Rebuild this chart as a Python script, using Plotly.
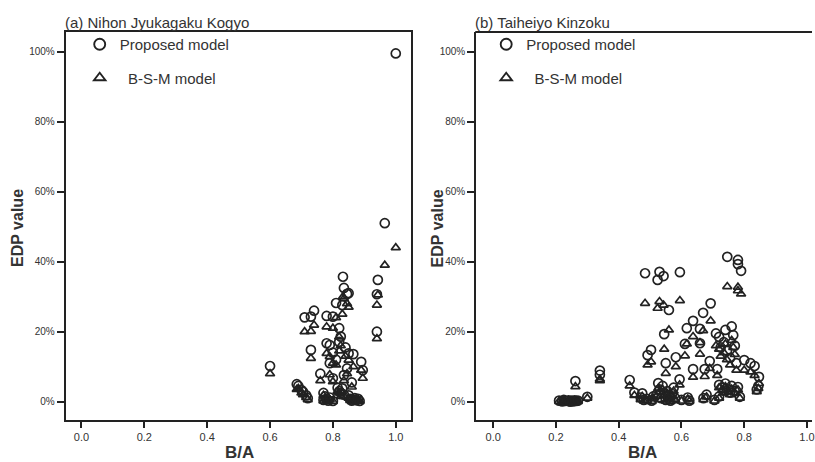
import plotly.graph_objects as go

# ---------------- data (B/A ratio, EDP value in %) ----------------
# (a) Nihon Jyukagaku Kogyo
a_ba = [0.60, 0.685, 0.69, 0.70, 0.705, 0.715, 0.72, 0.71, 0.73, 0.74, 0.73,
        0.78, 0.80, 0.81, 0.83, 0.832, 0.835, 0.85, 0.845, 0.78, 0.79, 0.82,
        0.825, 0.85, 0.865, 0.89, 0.895, 0.79, 0.80, 0.835, 0.845, 0.80, 0.81,
        0.77, 0.775, 0.78, 0.785, 0.77, 0.79, 0.80, 0.815, 0.82, 0.825, 0.83,
        0.835, 0.85, 0.855, 0.86, 0.865, 0.87, 0.875, 0.88, 0.885, 0.943,
        0.94, 0.94, 0.965, 1.0, 0.76, 0.82, 0.84, 0.86]
a_proposed = [10.2, 5.0, 4.5, 3.3, 2.8, 1.8, 1.0, 24.1, 24.3, 26.0, 14.8,
              24.5, 24.3, 28.2, 27.6, 35.7, 32.5, 31.0, 30.8, 16.7, 16.2, 17.1,
              18.6, 13.8, 13.6, 11.4, 9.0, 11.0, 6.7, 7.6, 9.5, 14.0, 12.0,
              2.5, 1.5, 0.8, 0.3, 0.5, 1.2, 0.2, 4.0, 3.0, 2.5, 3.8,
              2.0, 1.8, 0.8, 0.3, 0.6, 1.0, 0.4, 0.8, 0.2, 34.8,
              30.7, 20.0, 51.0, 99.5, 8.0, 21.0, 15.5, 5.5]
a_bsm = [8.0, 3.5, 3.8, 2.5, 2.0, 1.2, 0.6, 20.0, 20.1, 21.9, 12.4,
         21.4, 21.0, 24.0, 25.0, 30.0, 29.5, 27.0, 28.0, 13.8, 12.9, 14.5,
         16.0, 11.9, 10.0, 9.0, 6.7, 7.7, 5.7, 6.0, 8.0, 11.0, 10.5,
         1.8, 0.8, 0.3, 0.1, 0.2, 0.6, 0.1, 3.0, 2.5, 1.5, 2.8,
         1.5, 1.0, 0.4, 0.1, 0.3, 0.5, 0.2, 0.4, 0.1, 30.5,
         27.6, 18.0, 39.0, 44.0, 6.0, 18.5, 13.0, 4.2]

# (b) Taiheiyo Kinzoku
b_ba = [0.21, 0.22, 0.225, 0.23, 0.24, 0.245, 0.25, 0.255, 0.26, 0.265, 0.27,
        0.30, 0.262, 0.34, 0.34, 0.435, 0.45, 0.475, 0.48, 0.47,
        0.484, 0.53, 0.543, 0.524, 0.56, 0.595,
        0.746, 0.78, 0.78, 0.79, 0.693, 0.669, 0.637, 0.617, 0.659, 0.545,
        0.611, 0.659, 0.503, 0.492, 0.582, 0.55, 0.637, 0.674, 0.594, 0.526,
        0.714, 0.69,
        0.71, 0.72, 0.74, 0.76, 0.765, 0.725, 0.745, 0.77, 0.735, 0.755, 0.775,
        0.80, 0.82, 0.833, 0.847, 0.845, 0.84, 0.786,
        0.72, 0.73, 0.74, 0.75, 0.76, 0.77, 0.78, 0.755, 0.735,
        0.52, 0.53, 0.535, 0.54, 0.545, 0.55, 0.555, 0.56, 0.565, 0.57, 0.575, 0.58,
        0.49, 0.505, 0.51, 0.60, 0.62, 0.625, 0.67, 0.68, 0.72, 0.705]
b_proposed = [0.3, 0.1, 0.5, 0.2, 0.4, 0.0, 0.3, 0.1, 0.4, 0.2, 0.3,
              1.4, 5.9, 8.9, 7.7, 6.2, 2.6, 2.4, 0.5, 1.2,
              36.7, 37.1, 35.9, 34.8, 26.2, 37.0,
              41.4, 40.5, 39.3, 37.4, 28.1, 25.4, 23.1, 21.0, 20.8, 19.3,
              16.5, 16.7, 14.8, 13.3, 12.7, 11.0, 9.3, 9.3, 6.4, 5.3,
              9.3, 11.6,
              19.5, 18.5, 20.5, 21.5, 19.0, 15.5, 14.5, 16.0, 17.0, 12.5, 11.0,
              11.9, 11.0, 10.2, 7.1, 4.5, 3.5, 1.4,
              4.8, 4.0, 5.2, 3.5, 4.5, 3.0, 4.2, 2.6, 3.2,
              2.0, 3.5, 1.0, 4.5, 2.5, 0.5, 3.0, 1.5, 0.3, 2.2, 4.0, 1.0,
              0.8, 0.3, 1.5, 0.5, 1.2, 0.3, 1.0, 2.0, 1.5, 0.5]
b_bsm = [0.1, 0.0, 0.2, 0.1, 0.2, 0.0, 0.1, 0.0, 0.2, 0.1, 0.1,
         1.0, 4.3, 6.4, 6.0, 4.5, 1.8, 1.5, 0.2, 0.6,
         28.1, 28.6, 27.6, 26.7, 20.5, 28.9,
         32.9, 32.7, 31.7, 30.8, 23.1, 20.3, 18.6, 16.5, 16.9, 15.0,
         13.1, 13.6, 11.4, 10.5, 10.0, 8.1, 7.0, 7.2, 4.8, 3.8,
         7.5, 9.5,
         16.0, 15.0, 16.5, 17.5, 15.5, 13.0, 12.0, 13.5, 14.0, 10.5, 9.0,
         9.0, 8.5, 7.5, 5.2, 3.8, 2.9, 1.0,
         4.0, 3.2, 4.3, 2.8, 3.6, 2.5, 3.4, 2.0, 2.5,
         1.5, 2.8, 0.6, 3.5, 1.8, 0.2, 2.2, 1.0, 0.1, 1.6, 3.0, 0.5,
         0.4, 0.1, 1.0, 0.2, 0.8, 0.1, 0.6, 1.4, 1.0, 0.2]

x_ticks = [0.0, 0.2, 0.4, 0.6, 0.8, 1.0]
x_tick_labels = ["0.0", "0.2", "0.4", "0.6", "0.8", "1.0"]
y_ticks = [0, 20, 40, 60, 80, 100]
y_tick_labels = ["0%", "20%", "40%", "60%", "80%", "100%"]
panel_titles = ["(a) Nihon Jyukagaku Kogyo", "(b) Taiheiyo Kinzoku"]
legend_names = ["Proposed model", "\u00a0\u00a0B-S-M model"]

# ---------------- styling ----------------
W, H = 815, 462
INK = "#222222"
TXT = "#333333"
FONT = "Liberation Sans, Arial, sans-serif"
NARROW = "Liberation Sans Narrow, Arial Narrow, Liberation Sans, sans-serif"

def px_x(p):
    return p / W

def px_y(p):
    return 1 - p / H

circle = dict(symbol="circle-open", size=9, color=INK, line=dict(width=1.7, color=INK))
tri = dict(symbol="triangle-up-open", size=8, color=INK, line=dict(width=1.7, color=INK))

fig = go.Figure()
panels = [(a_ba, a_proposed, a_bsm, "x", "y", "legend"),
          (b_ba, b_proposed, b_bsm, "x2", "y2", "legend2")]
for ba, prop, bsm, xa, ya, lg in panels:
    fig.add_trace(go.Scatter(x=ba, y=bsm, mode="markers", marker=tri,
                             xaxis=xa, yaxis=ya, showlegend=False, hoverinfo="skip"))
    fig.add_trace(go.Scatter(x=ba, y=prop, mode="markers", marker=circle,
                             xaxis=xa, yaxis=ya, showlegend=False, hoverinfo="skip"))
    # legend entries
    fig.add_trace(go.Scatter(x=[None], y=[None], mode="markers",
                             marker=dict(circle, size=11, line=dict(width=1.9, color=INK)),
                             name=legend_names[0], legendgroup=lg + "a", legend=lg,
                             xaxis=xa, yaxis=ya))
    fig.add_trace(go.Scatter(x=[None], y=[None], mode="markers",
                             marker=dict(tri, size=10, line=dict(width=1.9, color=INK)),
                             name=legend_names[1], legendgroup=lg + "b", legend=lg,
                             xaxis=xa, yaxis=ya))

y_top, y_bot = 32, 420
yrange = [(401.7 - y_bot) / 3.5, (401.7 - y_top) / 3.5]

common_x = dict(tickvals=x_ticks, ticktext=x_tick_labels, ticks="outside", ticklen=6,
                tickwidth=1.5, tickcolor=INK, showline=True, linecolor=INK,
                linewidth=2, showgrid=False, zeroline=False, ticklabeloverflow="allow",
                tickfont=dict(family=NARROW, size=11, color=TXT))
common_y = dict(tickvals=y_ticks, ticktext=y_tick_labels, ticks="outside", ticklen=7,
                tickwidth=1.5, tickcolor=INK, showline=True, linecolor=INK,
                linewidth=2, showgrid=False, zeroline=False, range=yrange,
                tickfont=dict(family=NARROW, size=10, color=TXT))

fig.update_layout(
    width=W, height=H, margin=dict(l=0, r=0, t=0, b=0),
    paper_bgcolor="white", plot_bgcolor="white",
    xaxis=dict(common_x, domain=[px_x(66), px_x(413)], range=[-0.05, 1.05],
               anchor="y", mirror=True),
    yaxis=dict(common_y, domain=[px_y(y_bot), px_y(y_top)], anchor="x", mirror=True),
    xaxis2=dict(common_x, domain=[px_x(478), 1.0], range=[-0.054, 1.016],
                anchor="y2"),
    yaxis2=dict(common_y, domain=[px_y(y_bot), px_y(y_top)], anchor="x2"),
    legend=dict(x=px_x(80), y=px_y(28), xanchor="left", yanchor="top",
                bgcolor="rgba(0,0,0,0)", traceorder="grouped", tracegroupgap=11,
                font=dict(family=FONT, size=15, color=TXT)),
    legend2=dict(x=px_x(488), y=px_y(28), xanchor="left", yanchor="top",
                 bgcolor="rgba(0,0,0,0)", traceorder="grouped", tracegroupgap=11,
                 font=dict(family=FONT, size=15, color=TXT)),
    showlegend=True,
)

# top frame line of the (clipped) right panel
fig.add_shape(type="line", xref="paper", yref="paper", x0=px_x(477), x1=1.0,
              y0=px_y(y_top), y1=px_y(y_top), line=dict(color=INK, width=2))

annos = [
    dict(text=panel_titles[0], x=px_x(63), y=px_y(22), xanchor="left", yanchor="middle",
         font=dict(family=FONT, size=15, color=TXT)),
    dict(text=panel_titles[1], x=px_x(475), y=px_y(22), xanchor="left", yanchor="middle",
         font=dict(family=FONT, size=15, color=TXT)),
    dict(text="<b>EDP value</b>", x=px_x(18), y=px_y(228), textangle=-90,
         xanchor="center", yanchor="middle", font=dict(family=FONT, size=16, color=TXT)),
    dict(text="<b>EDP value</b>", x=px_x(440), y=px_y(228), textangle=-90,
         xanchor="center", yanchor="middle", font=dict(family=FONT, size=16, color=TXT)),
    dict(text="<b>B/A</b>", x=px_x(240), y=px_y(452), xanchor="center", yanchor="middle",
         font=dict(family=NARROW, size=17, color=TXT)),
    dict(text="<b>B/A</b>", x=px_x(645), y=px_y(452), xanchor="center", yanchor="middle",
         font=dict(family=NARROW, size=17, color=TXT)),
]
for an in annos:
    fig.add_annotation(xref="paper", yref="paper", showarrow=False, **an)

fig.write_html("out.html")
